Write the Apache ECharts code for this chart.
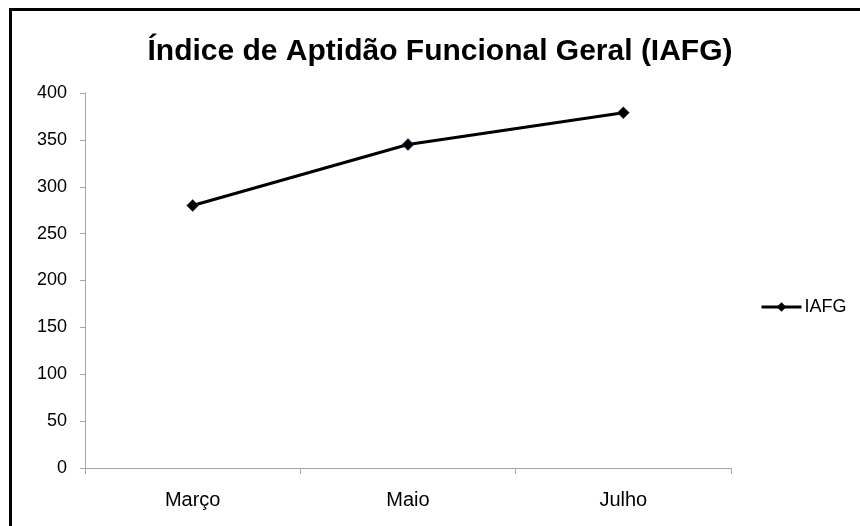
<!DOCTYPE html>
<html>
<head>
<meta charset="utf-8">
<script src="https://cdn.jsdelivr.net/npm/echarts@6/dist/echarts.min.js"></script>
<style>
html,body{margin:0;padding:0;background:#fff;}
#chart{width:860px;height:526px;}
</style>
</head>
<body>
<div id="chart"></div>
<script>
const titleText = 'Índice de Aptidão Funcional Geral (IAFG)';
const categories = ['Março', 'Maio', 'Julho'];
const seriesName = 'IAFG';
const values = [280, 345, 379];

const chart = echarts.init(document.getElementById('chart'), null, {renderer: 'canvas'});
chart.setOption({
  backgroundColor: '#ffffff',
  animation: false,
  title: {
    text: titleText,
    left: 440,
    top: 37,
    textAlign: 'center',
    padding: 0,
    textStyle: {fontFamily: 'Liberation Sans', fontWeight: 'bold', fontSize: 30, color: '#000'}
  },
  graphic: [{
    type: 'rect',
    shape: {x: 10.5, y: 9.5, width: 900, height: 600},
    style: {fill: 'none', stroke: '#000', lineWidth: 3},
    silent: true,
    z: 100
  }],
  legend: {
    data: [seriesName],
    left: 760,
    top: 298,
    padding: 0,
    itemWidth: 40,
    itemHeight: 12,
    itemStyle: {color: '#000', borderColor: '#000', borderWidth: 0},
    lineStyle: {color: '#000', width: 3},
    textStyle: {fontFamily: 'Liberation Sans', fontSize: 18, color: '#000', padding: [0,0,0,-2]}
  },
  grid: {left: 85, right: 129, top: 93, bottom: 58, containLabel: false},
  xAxis: {
    type: 'category',
    data: categories,
    boundaryGap: true,
    axisLine: {show: true, lineStyle: {color: '#a6a6a6', width: 1}},
    axisTick: {show: true, length: 6, alignWithLabel: false, lineStyle: {color: '#a6a6a6'}},
    axisLabel: {margin: 22, fontFamily: 'Liberation Sans', fontSize: 20, color: '#000'},
    splitLine: {show: false}
  },
  yAxis: {
    type: 'value',
    min: 0,
    max: 400,
    interval: 50,
    axisLine: {show: true, lineStyle: {color: '#a6a6a6', width: 1}},
    axisTick: {show: true, length: 5, lineStyle: {color: '#a6a6a6'}},
    axisLabel: {margin: 18, fontFamily: 'Liberation Sans', fontSize: 18, color: '#000'},
    splitLine: {show: false}
  },
  series: [{
    name: seriesName,
    type: 'line',
    data: values,
    symbol: 'diamond',
    symbolSize: 12,
    lineStyle: {color: '#000', width: 3},
    itemStyle: {color: '#000', borderColor: '#2a4a7a', borderWidth: 0.6},
    emphasis: {disabled: true}
  }]
});
</script>
</body>
</html>
